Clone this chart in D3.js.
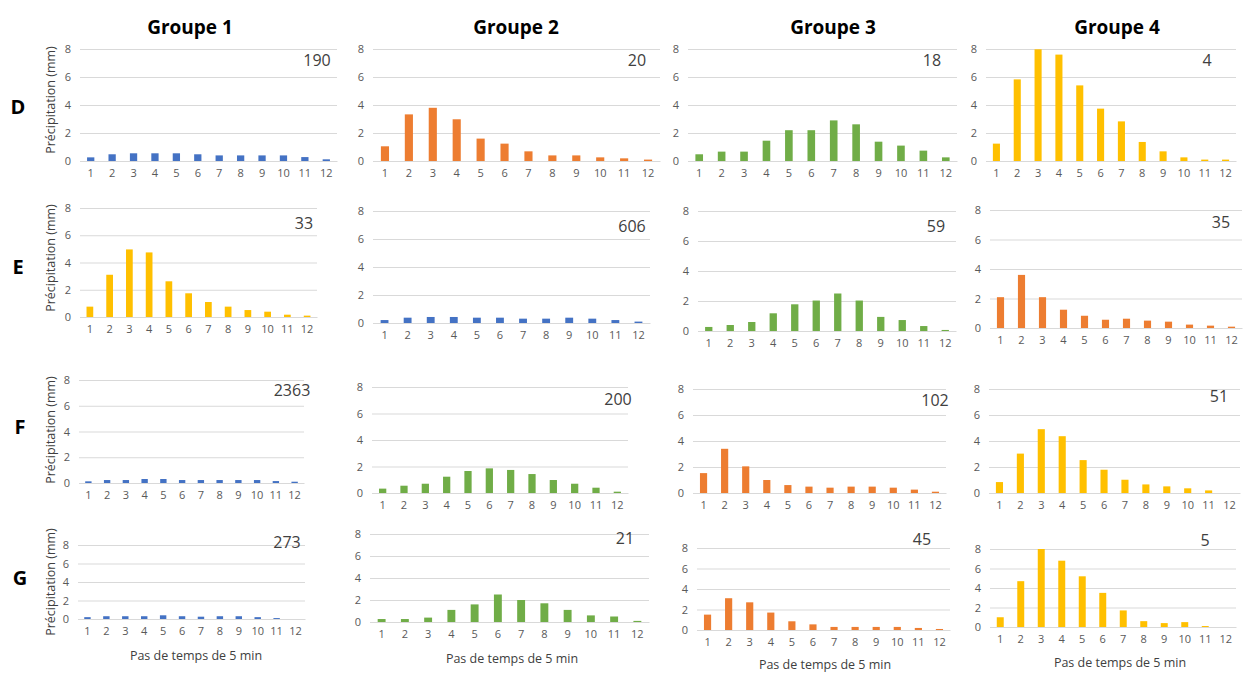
<!DOCTYPE html>
<html><head><meta charset="utf-8">
<script src="https://cdn.jsdelivr.net/npm/d3@7"></script>
<style>
body{margin:0;background:#fff;}
svg{display:block;font-family:"Open Sans","Liberation Sans",sans-serif;}
</style></head>
<body><svg id="c" width="1244" height="673"></svg>
<script>
// ---- data ----
const steps = [1,2,3,4,5,6,7,8,9,10,11,12];
const yTicks = [0,2,4,6,8];
const groups = ["Groupe 1","Groupe 2","Groupe 3","Groupe 4"];
const rows = ["D","E","F","G"];
const yTitle = "Précipitation (mm)";
const xTitle = "Pas de temps de 5 min";

const D1 = [0.26,0.48,0.55,0.55,0.55,0.48,0.4,0.4,0.4,0.4,0.28,0.12];
const D2 = [1.05,3.33,3.8,2.98,1.6,1.24,0.69,0.4,0.4,0.26,0.19,0.1];
const D3 = [0.48,0.67,0.67,1.45,2.2,2.2,2.9,2.62,1.38,1.1,0.74,0.26];
const D4 = [1.24,5.83,7.98,7.6,5.4,3.74,2.83,1.36,0.69,0.26,0.1,0.1];
const E1 = [0.76,3.1,4.96,4.74,2.62,1.74,1.1,0.76,0.51,0.39,0.17,0.1];
const E2 = [0.21,0.38,0.43,0.43,0.38,0.38,0.31,0.31,0.38,0.31,0.21,0.1];
const E3 = [0.27,0.4,0.6,1.18,1.78,2.03,2.5,2.03,0.94,0.73,0.33,0.07];
const E4 = [2.09,3.6,2.09,1.24,0.83,0.56,0.63,0.5,0.43,0.23,0.16,0.09];
const F1 = [0.13,0.23,0.23,0.31,0.31,0.23,0.23,0.23,0.23,0.23,0.15,0.1];
const F2 = [0.33,0.55,0.7,1.23,1.66,1.86,1.74,1.43,0.98,0.7,0.4,0.1];
const F3 = [1.53,3.4,2.05,1.0,0.61,0.49,0.41,0.49,0.49,0.41,0.26,0.1];
const F4 = [0.84,3.03,4.91,4.37,2.53,1.79,1.02,0.66,0.51,0.36,0.2,0];
const G1 = [0.2,0.3,0.3,0.3,0.4,0.3,0.25,0.3,0.3,0.2,0.1,0];
const G2 = [0.27,0.27,0.4,1.1,1.6,2.5,2.0,1.7,1.1,0.6,0.5,0.1];
const G3 = [1.5,3.1,2.7,1.7,0.85,0.55,0.3,0.3,0.3,0.3,0.2,0.1];
const G4 = [1.0,4.7,8.0,6.8,5.2,3.5,1.7,0.6,0.4,0.5,0.1,0];

const seriesValues = [[D1,D2,D3,D4],[E1,E2,E3,E4],[F1,F2,F3,F4],[G1,G2,G3,G4]];
const counts = [[190,20,18,4],[33,606,59,35],[2363,200,102,51],[273,21,45,5]];
const colorKey = [["blue","orange","green","yellow"],["yellow","blue","green","orange"],
                  ["blue","green","orange","yellow"],["blue","green","orange","yellow"]];

// ---- styles / layout ----
const palette = {blue:"#4472C4",orange:"#ED7D31",green:"#70AD47",yellow:"#FFC000"};
const layout = [
 [{l:80,r:337,t:49,b:161,nx:317,ny:60},{l:373,r:660,t:49,b:161,nx:637,ny:60},{l:688,r:957,t:49,b:161,nx:932,ny:60},{l:986,r:1236,t:49,b:161,nx:1207,ny:60}],
 [{l:80,r:317,t:208,b:317,nx:304,ny:223},{l:373,r:650,t:211,b:323,nx:632,ny:226},{l:698,r:956,t:211,b:331,nx:936,ny:226},{l:990,r:1242,t:210,b:328,nx:1221,ny:222}],
 [{l:79,r:304,t:380,b:483,nx:292,ny:390},{l:372,r:628,t:387,b:493,nx:618,ny:399},{l:693,r:946,t:389,b:493,nx:935,ny:400},{l:989,r:1240,t:389,b:493,nx:1219,ny:396}],
 [{l:78,r:305,t:545,b:619,nx:287,ny:542},{l:370,r:649,t:534,b:622,nx:625,ny:538},{l:697,r:950,t:548,b:630,nx:922,ny:539},{l:990,r:1236,t:549,b:627,nx:1205,ny:540}]
];
const titleX = [190,516,833,1117];
const rowLabelPos = [[18,107],[18,267],[20,427],[20,578]];
const yTitleY = [100,258,430,582];
const xTitleX = [196,512,825,1120];
const xTitleY = [656,659,665,663];

const svg = d3.select("#c");

groups.forEach((g,i)=>{
  svg.append("text").attr("x",titleX[i]).attr("y",27).attr("dy","0.35em")
    .attr("text-anchor","middle").attr("font-size",19).attr("font-weight","bold")
    .attr("fill","#000").text(g);
});
rows.forEach((r,i)=>{
  svg.append("text").attr("x",rowLabelPos[i][0]).attr("y",rowLabelPos[i][1]).attr("dy","0.35em")
    .attr("text-anchor","middle").attr("font-size",20).attr("font-weight","bold")
    .attr("fill","#000").text(r);
  svg.append("text").attr("transform",`translate(51,${yTitleY[i]}) rotate(-90)`)
    .attr("dy","0.35em").attr("text-anchor","middle").attr("font-size",12.5)
    .attr("fill","#404040").text(yTitle);
});

seriesValues.forEach((rowVals,ri)=>{
  rowVals.forEach((vals,ci)=>{
    const L = layout[ri][ci];
    const x = d3.scaleBand().domain(steps).range([L.l,L.r]).paddingInner(0.66).paddingOuter(0.33);
    const y = d3.scaleLinear().domain([0,8]).range([L.b,L.t]);
    const g = svg.append("g");
    // grid + y labels
    const ya = g.append("g").attr("transform",`translate(${L.l},0)`)
      .call(d3.axisLeft(y).tickValues(yTicks).tickSize(-(L.r-L.l)).tickPadding(9));
    ya.select(".domain").remove();
    ya.selectAll(".tick line").attr("stroke","#D9D9D9").attr("stroke-width",1);
    ya.selectAll(".tick text").attr("fill","#595959").attr("font-size",11)
      .attr("font-family","'Open Sans','Liberation Sans',sans-serif");
    // bars
    g.selectAll("rect").data(vals).enter().append("rect")
      .attr("x",(d,i)=>x(steps[i])).attr("width",x.bandwidth())
      .attr("y",d=>y(d)).attr("height",d=>y(0)-y(d))
      .attr("fill",palette[colorKey[ri][ci]]);
    // x axis
    const xa = g.append("g").attr("transform",`translate(0,${L.b})`)
      .call(d3.axisBottom(x).tickSize(0).tickPadding(8));
    xa.select(".domain").attr("stroke","#D9D9D9");
    xa.selectAll(".tick text").attr("fill","#595959").attr("font-size",11)
      .attr("font-family","'Open Sans','Liberation Sans',sans-serif");
    // count label
    g.append("text").attr("x",L.nx).attr("y",L.ny).attr("dy","0.35em")
      .attr("text-anchor","middle").attr("font-size",16).attr("fill","#404040")
      .text(counts[ri][ci]);
  });
});
groups.forEach((gname,i)=>{
  svg.append("text").attr("x",xTitleX[i]).attr("y",xTitleY[i]).attr("dy","0.35em")
    .attr("text-anchor","middle").attr("font-size",12.5).attr("fill","#404040").text(xTitle);
});
</script></body></html>
